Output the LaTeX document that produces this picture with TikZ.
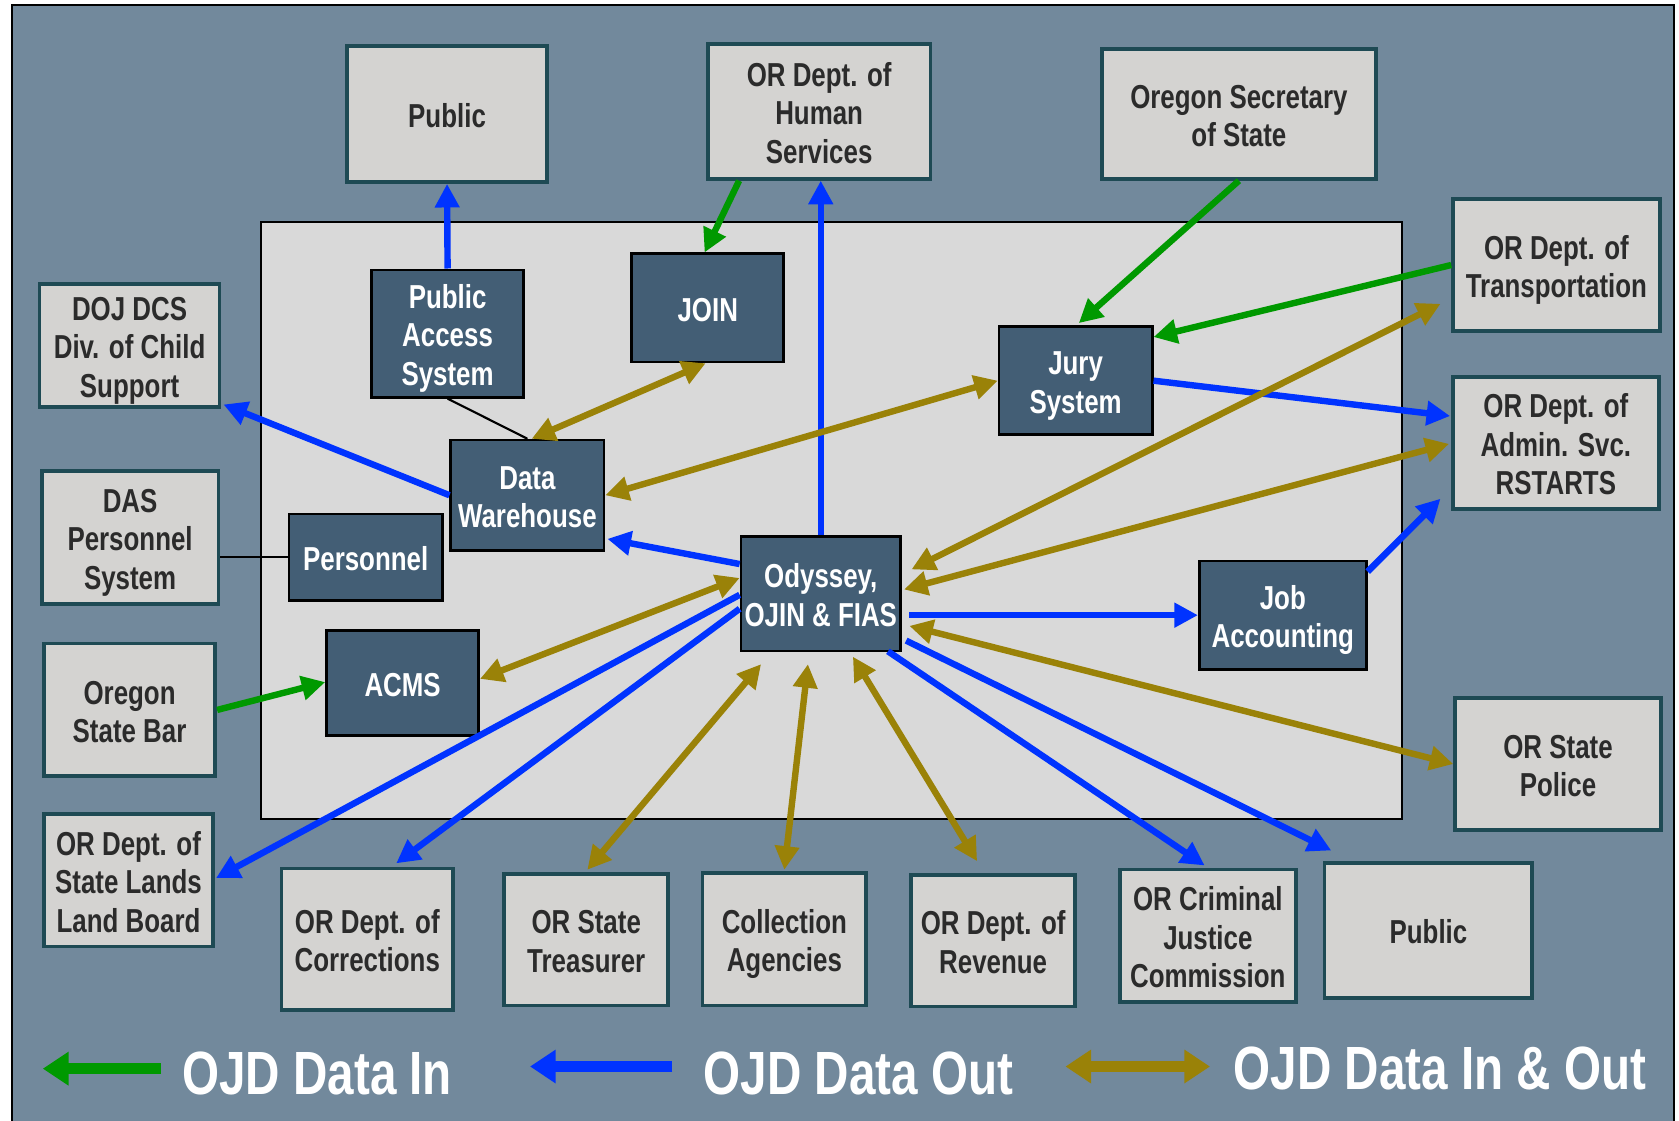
\documentclass[tikz,border=0pt]{standalone}
\usepackage{fontspec}
\setmainfont{Liberation Sans}[FakeStretch=0.78]
\usetikzlibrary{arrows.meta,calc}
\definecolor{slate}{RGB}{114,137,156}
\definecolor{innergray}{RGB}{217,217,217}
\definecolor{boxfill}{RGB}{212,211,209}
\definecolor{boxedge}{RGB}{30,74,84}
\definecolor{darkbox}{RGB}{67,94,117}
\definecolor{cgreen}{RGB}{0,153,0}
\definecolor{cblue}{RGB}{0,51,255}
\definecolor{colive}{RGB}{154,130,8}
\definecolor{txtdark}{RGB}{43,43,43}
\newcommand\bxfont{\fontsize{31}{36}\selectfont\bfseries}
\newcommand\lgfont{\fontsize{57}{60}\selectfont\bfseries}
\newcommand\strT{\rule{0pt}{32pt}}
\newcommand\strB{\rule[-7pt]{0pt}{0pt}}
\begin{document}
\begin{tikzpicture}[x=1pt,y=-1pt,
  obox/.style={draw=boxedge, line width=3.5pt, fill=boxfill, text=txtdark, align=center, inner sep=0pt, font=\bxfont},
  dbox/.style={draw=black, line width=2.5pt, fill=darkbox, text=white, align=center, inner sep=0pt, font=\bxfont},
  tipT/.tip={Triangle[length=22pt,width=22pt]},
  inarrow/.style={draw=cgreen, line width=6pt, -tipT},
  outarrow/.style={draw=cblue, line width=6pt, -tipT},
  ioarrow/.style={draw=colive, line width=6pt, tipT-tipT},
  plainline/.style={draw=black, line width=2pt},
  lgtip/.tip={Triangle[length=24pt,width=30pt]},
  lgin/.style={draw=cgreen, line width=10pt, -lgtip},
  lgout/.style={draw=cblue, line width=10pt, -lgtip},
  lgio/.style={draw=colive, line width=10pt, lgtip-lgtip},
  lgtext/.style={text=white, font=\lgfont, inner sep=0pt, anchor=base west}
]
\useasboundingbox (0,0) rectangle (1568,1046);
\fill[white] (0,0) rectangle (1568,1046);
\draw[fill=slate, line width=2pt] (11,5) rectangle (1563,1056);
\draw[fill=innergray, line width=2pt] (244,207) rectangle (1309,765);

% outer boxes
\node[obox, minimum width=187, minimum height=127] (pubT) at (417.5,106.5) {\strT Public\strB};
\node[obox, minimum width=208, minimum height=126] (dhs) at (765,104) {\strT OR Dept. of\\Human\\Services\strB};
\node[obox, minimum width=256, minimum height=121] (sos) at (1157,106.5) {\strT Oregon Secretary\\of State\strB};
\node[obox, minimum width=193, minimum height=123] (odot) at (1453.5,247.5) {\strT OR Dept. of\\Transportation\strB};
\node[obox, minimum width=192, minimum height=123] (das2) at (1453,413.5) {\strT OR Dept. of\\Admin. Svc.\\RSTARTS\strB};
\node[obox, minimum width=168, minimum height=115] (doj) at (121,322.5) {\strT DOJ DCS\\Div. of Child\\Support\strB};
\node[obox, minimum width=165, minimum height=124] (dasp) at (121.5,502) {\strT DAS\\Personnel\\System\strB};
\node[obox, minimum width=160, minimum height=124] (osb) at (121,663) {\strT Oregon\\State Bar\strB};
\node[obox, minimum width=158, minimum height=124] (dsl) at (120,822) {\strT OR Dept. of\\State Lands\\Land Board\strB};
\node[obox, minimum width=160, minimum height=132] (doc) at (343,877) {\strT OR Dept. of\\Corrections\strB};
\node[obox, minimum width=153, minimum height=123] (ost) at (547.5,877.5) {\strT OR State\\Treasurer\strB};
\node[obox, minimum width=153, minimum height=124] (col) at (732.5,877) {\strT Collection\\Agencies\strB};
\node[obox, minimum width=153, minimum height=123] (dor) at (927.5,878.5) {\strT OR Dept. of\\Revenue\strB};
\node[obox, minimum width=164, minimum height=124] (cjc) at (1128,874) {\strT OR Criminal\\Justice\\Commission\strB};
\node[obox, minimum width=194, minimum height=126] (pubB) at (1334,869) {\strT Public\strB};
\node[obox, minimum width=192, minimum height=123] (osp) at (1455,713.5) {\strT OR State\\Police\strB};

% inner dark boxes
\node[dbox, minimum width=142, minimum height=119] (pas) at (418,311.5) {\strT Public\\Access\\System\strB};
\node[dbox, minimum width=142, minimum height=101] (join) at (661,287.5) {\strT JOIN\strB};
\node[dbox, minimum width=143, minimum height=101] (jury) at (1004.5,355.5) {\strT Jury\\System\strB};
\node[dbox, minimum width=143, minimum height=103] (dw) at (492.5,462.5) {\strT Data\\Warehouse\strB};
\node[dbox, minimum width=143, minimum height=81] (pers) at (341.5,520.5) {\strT Personnel\strB};
\node[dbox, minimum width=142, minimum height=98] (acms) at (376,638) {\strT ACMS\strB};
\node[dbox, minimum width=149, minimum height=107] (ody) at (766.5,554.5) {\strT Odyssey,\\OJIN \& FIAS\strB};
\node[dbox, minimum width=156, minimum height=101] (job) at (1198,574.5) {\strT Job\\Accounting\strB};

% plain lines
\draw[plainline] (pas.south) -- (dw.north);
\draw[plainline] (pers.west) -- (pers.west -| dasp.east);

% connectors
\draw[outarrow] (pas.north) -- (pubT.south);
\draw[inarrow] ($(dhs.south west)+(31,0)$) -- ($(join.north)+(-3,0)$);
\draw[outarrow] (ody.north) -- (ody.north |- dhs.south);
\draw[inarrow] (sos.south) -- ($(jury.north)+(3,-2)$);
\draw[inarrow] (odot.west) -- ($(jury.north east)+(0,11)$);
\draw[outarrow] (jury.east) -- ($(das2.west)+(-1,-25)$);
\draw[ioarrow] ($(dw.north)+(4,0)$) -- ($(join.south)+(-2,0)$);
\draw[ioarrow] (dw.east) -- (jury.west);
\draw[outarrow] (dw.west) -- ($(doj.south east)+(2,-4)$);
\draw[outarrow] ($(ody.north west)+(0,27)$) -- ($(dw.south east)+(2,-12)$);
\draw[ioarrow] ($(ody.north west)+(0,40)$) -- ($(acms.east)+(0,-4)$);
\draw[inarrow] (osb.east) -- ($(acms.west)+(0,-1)$);
\draw[outarrow] ($(ody.west)+(0,1)$) -- ($(dsl.east)+(1,-2)$);
\draw[outarrow] ($(ody.west)+(0,14)$) -- ($(doc.north)+(27,-3)$);
\draw[ioarrow] ($(ody.south west)+(20,11)$) -- ($(ost.north)+(1,-2)$);
\draw[ioarrow] ($(ody.south)+(-12,11)$) -- ($(col.north)+(0,-1)$);
\draw[ioarrow] ($(ody.south)+(30,4)$) -- ($(dor.north)+(-15,-11)$);
\draw[outarrow] ($(ody.south east)+(-13,-1)$) -- ($(cjc.north)+(-3,-2)$);
\draw[outarrow] ($(ody.south east)+(4,-11)$) -- ($(pubB.north west)+(8,-10)$);
\draw[ioarrow] ($(ody.east)+(7,30)$) -- (osp.west);
\draw[outarrow] ($(ody.east)+(7,20)$) -- (job.west);
\draw[ioarrow] ($(ody.east)+(2,-4)$) -- ($(das2.west)+(-2,1)$);
\draw[ioarrow] ($(ody.north east)+(9,32)$) -- ($(odot.south west)+(-10,-27)$);
\draw[outarrow] ($(job.north east)+(0,11)$) -- ($(das2.south west)+(-10,-11)$);

% legend
\coordinate (lgA1) at (150,998);
\coordinate (lgA2) at (40,998);
\coordinate (lgB1) at (628,996);
\coordinate (lgB2) at (495,996);
\coordinate (lgC1) at (995,996);
\coordinate (lgC2) at (1130,996);
\draw[lgin] (lgA1) -- (lgA2);
\draw[lgout] (lgB1) -- (lgB2);
\draw[lgio] (lgC1) -- (lgC2);
\node[lgtext] (lgtA) at (170,1022) {OJD Data In};
\node[lgtext] (lgtB) at (657,1022) {OJD Data Out};
\node[lgtext] (lgtC) at (1152,1017) {OJD Data In \& Out};
\end{tikzpicture}
\end{document}
